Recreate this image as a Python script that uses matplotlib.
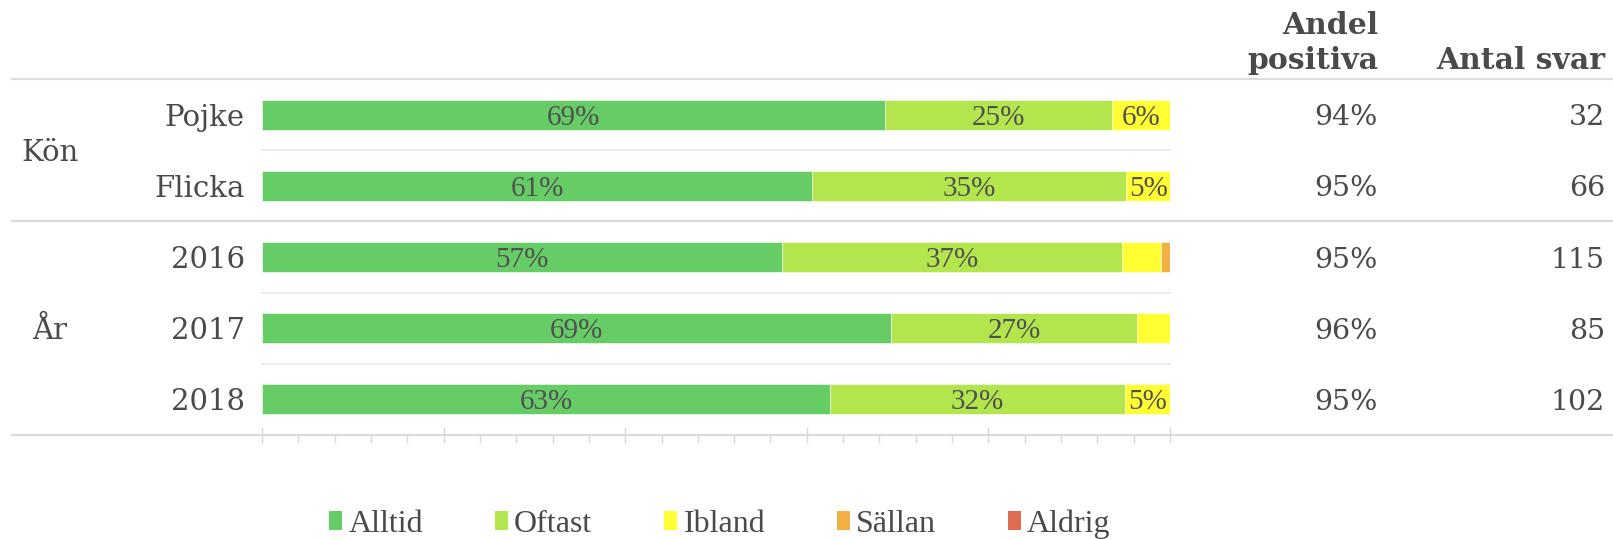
import matplotlib
matplotlib.use("Agg")
import matplotlib.pyplot as plt
import matplotlib.transforms as mtransforms
from matplotlib.patches import Patch
import numpy as np

# ---- data ----
categories = ["Pojke", "Flicka", "2016", "2017", "2018"]
groups = [("Kön", 0, 1), ("År", 2, 4)]
series_names = ["Alltid", "Oftast", "Ibland", "Sällan", "Aldrig"]
alltid = [68.6, 60.6, 57.3, 69.3, 62.6]
oftast = [25.0, 34.6, 37.4, 27.1, 32.4]
ibland = [6.4, 4.8, 4.3, 3.6, 5.0]
sallan = [0.0, 0.0, 1.0, 0.0, 0.0]
aldrig = [0.0, 0.0, 0.0, 0.0, 0.0]
andel_positiva = ["94%", "95%", "95%", "96%", "95%"]
antal_svar = ["32", "66", "115", "85", "102"]
colors = ["#66CC66", "#B3E64C", "#FFFF33", "#F0B142", "#E06B53"]

W, H = 1613, 539
fig = plt.figure(figsize=(W / 100, H / 100), dpi=100)

def fx(px):
    return px / W

def fy(py):
    return 1 - py / H

ax = fig.add_axes([fx(262), fy(435), fx(1170) - fx(262), fy(79) - fy(435)])
ax.set_xlim(0, 100)
ax.set_ylim(len(categories) - 0.5, -0.5)

series = [alltid, oftast, ibland, sallan, aldrig]
y = np.arange(len(categories))
left = np.zeros(len(categories))
for name, vals, col in zip(series_names, series, colors):
    vals = np.array(vals)
    ax.barh(y, vals, left=left, height=0.42, color=col, edgecolor="white",
            linewidth=0.4, label=name)
    for yi, (l, v) in enumerate(zip(left, vals)):
        if round(v) >= 5:
            ax.text(l + v / 2, yi, f"{round(v)}%", ha="center", va="center_baseline",
                    fontsize=21, family="Liberation Serif", color="#505050")
    left = left + vals

for s in ax.spines.values():
    s.set_visible(False)
ax.set_yticks([])
ax.set_xticks(np.arange(0, 101, 20))
ax.set_xticks(np.arange(0, 101, 4), minor=True)
ax.tick_params(axis="x", which="major", direction="inout", length=12,
               width=1, color="#d9d9d9", labelbottom=False)
ax.tick_params(axis="x", which="minor", direction="out", length=6,
               width=1, color="#d9d9d9")

blend = mtransforms.blended_transform_factory(fig.transFigure, ax.transData)

# separator lines
for yy in [-0.5, 1.5, len(categories) - 0.5]:
    ax.plot([fx(12), 1.0], [yy, yy], transform=blend, color="#dcdcdc",
            lw=1.6, clip_on=False, zorder=0)
for yy in [0.5, 2.5, 3.5]:
    ax.plot([0, 100], [yy, yy], color="#e6e6e6", lw=1.1, clip_on=False, zorder=0)

label_color = "#4a4a4a"
for yi, c in enumerate(categories):
    ax.text(fx(245), yi, c, transform=blend, ha="right", va="center_baseline",
            fontsize=21, family="DejaVu Serif", color=label_color)
    ax.text(fx(1378), yi, andel_positiva[yi], transform=blend, ha="right",
            va="center_baseline", fontsize=20.5, family="DejaVu Serif", color=label_color)
    ax.text(fx(1605), yi, antal_svar[yi], transform=blend, ha="right",
            va="center_baseline", fontsize=20.5, family="DejaVu Serif", color=label_color)

for gname, a, b in groups:
    ax.text(fx(50), (a + b) / 2, gname, transform=blend, ha="center",
            va="center_baseline", fontsize=21, family="DejaVu Serif", color=label_color)

# headers
hdr = dict(fontsize=21.5, family="DejaVu Serif", fontweight="bold",
           color="#4a4a4a", ha="right", va="baseline")
fig.text(fx(1378), fy(34), "Andel", **hdr)
fig.text(fx(1378), fy(69), "positiva", **hdr)
fig.text(fx(1605), fy(69), "Antal svar", **hdr)

# legend
handles = [Patch(facecolor=c, edgecolor="none") for c in colors]
leg = fig.legend(handles, series_names, loc="center", ncol=5,
                 bbox_to_anchor=(fx(720), fy(524)), frameon=False,
                 prop={"family": "Liberation Serif", "size": 23},
                 handlelength=0.4, handleheight=0.5, handletextpad=0.2,
                 columnspacing=2.25, labelcolor="#4a4a4a")

fig.savefig("out.png", dpi=100)
